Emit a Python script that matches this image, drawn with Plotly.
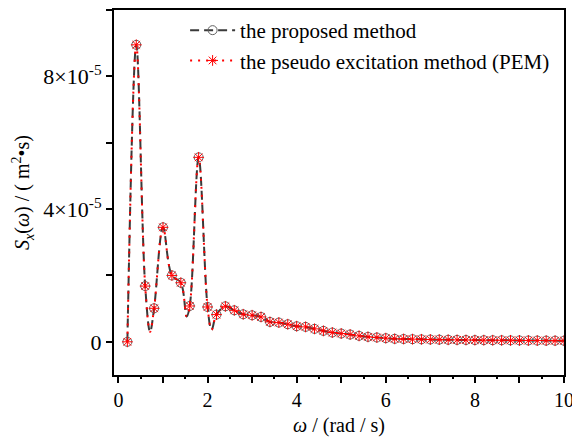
import plotly.graph_objects as go

# sampled points (markers)
omega = [0.2, 0.4, 0.6, 0.8, 1.0, 1.2, 1.4, 1.6, 1.8, 2.0,
         2.2, 2.4, 2.6, 2.8, 3.0, 3.2, 3.4, 3.6, 3.8, 4.0,
         4.2, 4.4, 4.6, 4.8, 5.0, 5.2, 5.4, 5.6, 5.8, 6.0,
         6.2, 6.4, 6.6, 6.8, 7.0, 7.2, 7.4, 7.6, 7.8, 8.0,
         8.2, 8.4, 8.6, 8.8, 9.0, 9.2, 9.4, 9.6, 9.8, 10.0]

# spectral density, units of 1e-5 m^2*s
proposed = [0.00, 8.95, 1.68, 1.01, 3.45, 2.00, 1.78, 1.08, 5.56, 1.05,
            0.82, 1.07, 0.95, 0.83, 0.80, 0.75, 0.60, 0.58, 0.53, 0.47,
            0.45, 0.39, 0.33, 0.28, 0.25, 0.22, 0.18, 0.15, 0.13, 0.11,
            0.09, 0.085, 0.08, 0.075, 0.07, 0.066, 0.062, 0.058, 0.055, 0.052,
            0.05, 0.048, 0.046, 0.044, 0.042, 0.04, 0.038, 0.036, 0.035, 0.034]
pem = [0.00, 8.95, 1.68, 1.01, 3.45, 2.00, 1.78, 1.08, 5.56, 1.05,
       0.82, 1.07, 0.95, 0.83, 0.80, 0.75, 0.60, 0.58, 0.53, 0.47,
       0.45, 0.39, 0.33, 0.28, 0.25, 0.22, 0.18, 0.15, 0.13, 0.11,
       0.09, 0.085, 0.08, 0.075, 0.07, 0.066, 0.062, 0.058, 0.055, 0.052,
       0.05, 0.048, 0.046, 0.044, 0.042, 0.04, 0.038, 0.036, 0.035, 0.034]

# continuous curve: sampled points plus troughs read between them
dip_omega = [0.71, 1.53, 2.09]
dip_value = [0.30, 0.76, 0.36]

x_ticks = [0, 2, 4, 6, 8, 10]
x_labels = ["0", "2", "4", "6", "8", "10"]
x_half_ticks = [0.5, 1.5, 2.5, 3.5, 4.5, 5.5, 6.5, 7.5, 8.5, 9.5]
y_ticks = [0, 4e-5, 8e-5]
y_labels = ["0", "4×10<sup>-5</sup>", "8×10<sup>-5</sup>"]

FONT = "'Liberation Serif', 'Times New Roman', serif"
scale = 1e-5
X_RANGE = [-0.1, 10.0]


def curve(xs, ys):
    pts = sorted(list(zip(xs, ys)) + list(zip(dip_omega, dip_value)))
    return [p[0] for p in pts], [p[1] * scale for p in pts]


GRAY_LINE = dict(color="#3a3a3a", width=2, dash="9px,5px", shape="spline", smoothing=1.0)
RED_LINE = dict(color="#ff0000", width=2, dash="2px,6px", shape="spline", smoothing=1.0)
GRAY_MK = dict(symbol="circle-open", size=9, color="#606060", line=dict(width=1))
RED_MK = dict(symbol="asterisk-open", size=9, color="#ff0000", line=dict(width=1, color="#ff0000"))

fig = go.Figure()
cx, cy = curve(omega, proposed)
fig.add_trace(go.Scatter(x=cx, y=cy, mode="lines", line=GRAY_LINE, showlegend=False))
fig.add_trace(go.Scatter(x=omega, y=[v * scale for v in proposed], mode="markers",
                         marker=GRAY_MK, showlegend=False))
cx, cy = curve(omega, pem)
fig.add_trace(go.Scatter(x=cx, y=cy, mode="lines", line=RED_LINE, showlegend=False))
fig.add_trace(go.Scatter(x=omega, y=[v * scale for v in pem], mode="markers",
                         marker=RED_MK, showlegend=False))
# legend entries
fig.add_trace(go.Scatter(x=[None], y=[None], mode="lines+markers", name="the proposed method",
                         line=GRAY_LINE, marker=GRAY_MK))
fig.add_trace(go.Scatter(x=[None], y=[None], mode="lines+markers",
                         name="the pseudo excitation method (PEM)", line=RED_LINE, marker=RED_MK))
# carrier for the half-step tick axis
fig.add_trace(go.Scatter(x=[None], y=[None], xaxis="x2", showlegend=False, hoverinfo="skip"))

fig.update_layout(
    width=572, height=438,
    margin=dict(l=114, r=8, t=10, b=63),
    paper_bgcolor="white", plot_bgcolor="white",
    font=dict(family=FONT, size=20, color="black"),
    showlegend=True,
    legend=dict(x=0.158, y=1.0, xanchor="left", yanchor="top",
                bgcolor="rgba(0,0,0,0)", font=dict(size=21, family=FONT),
                tracegroupgap=0, itemwidth=45),
    xaxis=dict(range=X_RANGE, tickvals=x_ticks, ticktext=x_labels,
               ticks="outside", ticklen=6, tickwidth=2, tickcolor="black",
               tickfont=dict(size=20, family=FONT), ticklabeloverflow="allow",
               minor=dict(dtick=1, tick0=0, ticks="outside", ticklen=6, tickwidth=2, tickcolor="black"),
               showline=True, linewidth=2, linecolor="black", mirror=True,
               showgrid=False, zeroline=False, automargin=False,
               title=dict(text="<i>ω</i> / (rad / s)", font=dict(size=20, family=FONT), standoff=8)),
    xaxis2=dict(range=X_RANGE, overlaying="x", anchor="y", side="bottom",
                tickvals=x_half_ticks, showticklabels=False,
                ticks="outside", ticklen=3, tickwidth=2, tickcolor="black",
                showline=False, showgrid=False, zeroline=False, automargin=False),
    yaxis=dict(range=[-1e-5, 1e-4], tickvals=y_ticks, ticktext=y_labels,
               ticks="outside", ticklen=6, tickwidth=2, tickcolor="black",
               tickfont=dict(size=22, family=FONT), ticklabeloverflow="allow",
               minor=dict(dtick=2e-5, tick0=0, ticks="outside", ticklen=6, tickwidth=2, tickcolor="black"),
               showline=True, linewidth=2, linecolor="black", mirror=True,
               showgrid=False, zeroline=False, automargin=False,
               title=dict(text="<i>S<sub>x</sub></i>(<i>ω</i>) / ( m<sup>2</sup>•s)",
                          font=dict(size=20, family=FONT), standoff=8)),
)

fig.write_html("out.html")
